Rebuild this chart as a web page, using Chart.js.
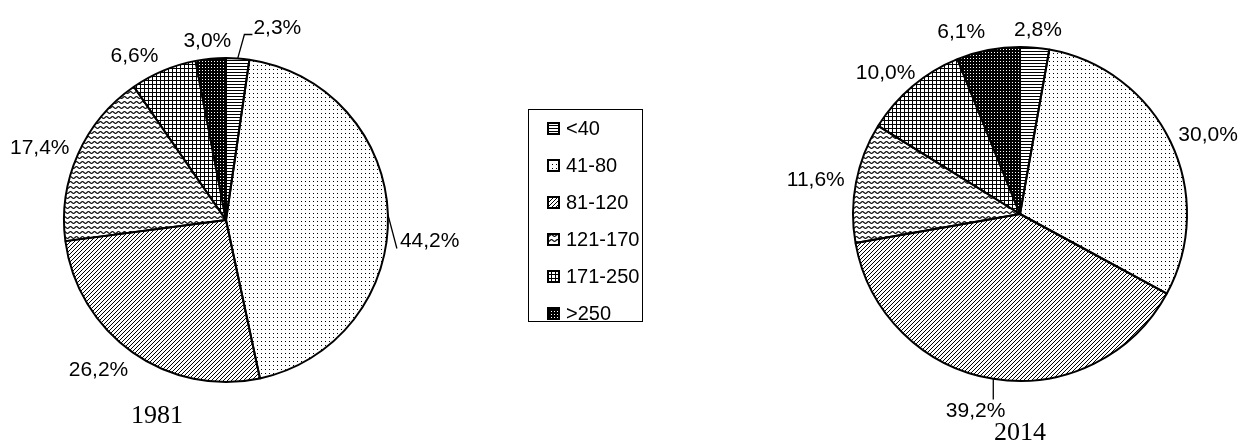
<!DOCTYPE html>
<html>
<head>
<meta charset="utf-8">
<script src="https://cdn.jsdelivr.net/npm/chart.js@4.4.0/dist/chart.umd.min.js"></script>
<style>
  body { margin: 0; background: #fff; }
  #wrap { position: relative; width: 1249px; height: 443px; }
  canvas.pie { position: absolute; left: 0; top: 0; }
  #legenda {
    position: absolute; left: 528px; top: 109px; width: 115px; height: 213px;
    border: 1px solid #000; box-sizing: border-box;
    font-family: "Liberation Sans", Arial, sans-serif; font-size: 20px; color: #000;
  }
  .item { position: absolute; left: 18px; height: 20px; display: flex; align-items: center; white-space: nowrap; }
  .item canvas { margin-right: 6px; }
</style>
</head>
<body>
<div id="wrap">
  <canvas id="grafico1981" class="pie" width="1249" height="443"></canvas>
  <canvas id="grafico2014" class="pie" width="1249" height="443"></canvas>
  <div id="legenda"></div>
</div>
<script>
const faixas = ["<40", "41-80", "81-120", "121-170", "171-250", ">250"];
const valores1981 = [2.3, 44.2, 26.2, 17.4, 6.6, 3.0];
const valores2014 = [2.8, 30.0, 39.2, 11.6, 10.0, 6.1];
const anos = ["1981", "2014"];

// texturas em preto e branco, uma por faixa
function criaPadrao(tipo) {
  const t = document.createElement("canvas");
  const c = t.getContext("2d");
  c.fillStyle = "#000";
  if (tipo === "linhas") {
    t.width = 4; t.height = 3;
    c.fillRect(0, 0, 4, 1);
  } else if (tipo === "pontos") {
    t.width = 4; t.height = 4;
    c.fillRect(1, 1, 1, 1);
  } else if (tipo === "diagonal") {
    t.width = 4; t.height = 4;
    c.fillRect(3, 0, 1, 1); c.fillRect(2, 1, 1, 1);
    c.fillRect(1, 2, 1, 1); c.fillRect(0, 3, 1, 1);
  } else if (tipo === "ondas") {
    t.width = 6; t.height = 5;
    c.strokeStyle = "#000";
    c.lineWidth = 1.1;
    c.beginPath();
    for (let x = -1; x <= 7; x += 0.5) {
      const y = 2.5 + Math.sin((2 * Math.PI * x) / 6);
      if (x === -1) c.moveTo(x, y); else c.lineTo(x, y);
    }
    c.stroke();
  } else if (tipo === "grade") {
    t.width = 4; t.height = 4;
    c.fillRect(0, 0, 4, 1); c.fillRect(0, 0, 1, 4);
  } else {
    t.width = 3; t.height = 3;
    c.fillRect(0, 0, 3, 3);
    c.fillStyle = "#fff";
    c.fillRect(1, 1, 1, 1);
  }
  return c.createPattern(t, "repeat");
}

const padroes = ["linhas", "pontos", "diagonal", "ondas", "grade", "escuro"].map(criaPadrao);

const rotulosPlugin = {
  id: "rotulos",
  afterDatasetsDraw(chart, args, opts) {
    const ctx = chart.ctx;
    const meta = chart.getDatasetMeta(0);
    const valores = chart.data.datasets[0].data;
    const tam = 21;
    const altura = tam * 0.716;
    ctx.save();
    ctx.font = tam + "px 'Liberation Sans', Arial, sans-serif";
    ctx.fillStyle = "#000";
    ctx.strokeStyle = "#000";
    ctx.lineWidth = 1.3;
    ctx.textAlign = "center";
    ctx.textBaseline = "alphabetic";
    meta.data.forEach((arco, i) => {
      const p = arco.getProps(["x", "y", "startAngle", "endAngle", "outerRadius"], true);
      const meio = (p.startAngle + p.endAngle) / 2;
      const ux = Math.cos(meio), uy = Math.sin(meio);
      const texto = valores[i].toFixed(1).replace(".", ",") + "%";
      const largura = ctx.measureText(texto).width;
      const d = p.outerRadius + opts.folga;
      const aj = (opts.ajustes && opts.ajustes[i]) || { dx: 0, dy: 0 };
      const tx = p.x + d * ux + (ux * largura) / 2 + aj.dx;
      const ty = p.y + d * uy + (uy * altura) / 2 + aj.dy;
      if (aj.guia) {
        const ex = p.x + p.outerRadius * ux, ey = p.y + p.outerRadius * uy;
        const esq = tx - largura / 2, base = ty + altura / 2;
        ctx.beginPath();
        ctx.moveTo(ex, ey);
        if (aj.guia === "cotovelo") {
          ctx.lineTo(esq - 9, base);
          ctx.lineTo(esq - 1, base);
        } else if (aj.guia === "base") {
          ctx.lineTo(esq - 3, base + 2);
        } else {
          const bx = Math.min(Math.max(ex, esq - 1), tx + largura / 2 + 1);
          const by = Math.min(Math.max(ey, ty - altura / 2 - 2), base + 2);
          ctx.lineTo(bx, by);
        }
        ctx.stroke();
      }
      ctx.fillText(texto, tx, ty + altura / 2);
    });
    ctx.font = "26px 'Liberation Serif', 'Times New Roman', serif";
    ctx.fillText(opts.ano, meta.data[0].x + opts.anoDx, meta.data[0].y + opts.anoDy);
    ctx.restore();
  }
};

function criaGrafico(id, valores, cx, cy, raio, rotulos) {
  return new Chart(document.getElementById(id), {
    type: "pie",
    data: {
      labels: faixas,
      datasets: [{
        data: valores,
        backgroundColor: padroes,
        borderColor: "#000",
        borderWidth: 2,
        radius: raio
      }]
    },
    options: {
      responsive: false,
      animation: false,
      events: [],
      layout: {
        padding: { left: cx - 175, right: 1249 - cx - 175, top: cy - 175, bottom: 443 - cy - 175 }
      },
      plugins: {
        legend: { display: false },
        tooltip: { enabled: false },
        rotulos: rotulos
      }
    },
    plugins: [rotulosPlugin]
  });
}

criaGrafico("grafico1981", valores1981, 226, 220, 162, {
  folga: 12,
  ano: anos[0], anoDx: -69, anoDy: 203,
  ajustes: {
    0: { dx: 37, dy: -12, guia: "cotovelo" },
    1: { dx: 0, dy: 25, guia: "base" },
    2: { dx: -10, dy: 0 },
    4: { dx: -15, dy: 2 }
  }
});

criaGrafico("grafico2014", valores2014, 1020, 214, 167, {
  folga: 12,
  ano: anos[1], anoDx: 0, anoDy: 226,
  ajustes: {
    2: { dx: -11, dy: 11, guia: "reta" },
    5: { dx: -20, dy: 0 }
  }
});

// legenda central
const legenda = document.getElementById("legenda");
faixas.forEach((faixa, i) => {
  const item = document.createElement("div");
  item.className = "item";
  item.style.top = (8 + i * 37) + "px";
  const amostra = document.createElement("canvas");
  amostra.width = 13; amostra.height = 13;
  const c = amostra.getContext("2d");
  c.fillStyle = "#fff";
  c.fillRect(0, 0, 13, 13);
  c.fillStyle = padroes[i];
  c.fillRect(0, 0, 13, 13);
  c.strokeStyle = "#000";
  c.lineWidth = 2;
  c.strokeRect(1, 1, 11, 11);
  const texto = document.createElement("span");
  texto.textContent = faixa;
  item.appendChild(amostra);
  item.appendChild(texto);
  legenda.appendChild(item);
});
</script>
</body>
</html>
